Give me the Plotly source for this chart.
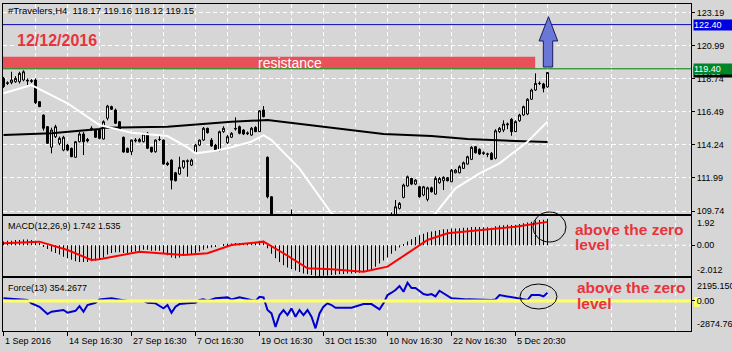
import plotly.graph_objects as go

# ---------------- data ----------------
bar_idx = list(range(137))

opens = [118.75,118.40,118.46,118.52,118.52,118.64,118.62,118.60,118.64,117.17,
         116.26,115.47,114.07,114.79,114.34,113.88,114.22,114.00,113.39,114.45,
         114.97,114.60,115.25,115.24,115.24,114.63,116.04,116.83,116.60,115.81,
         114.75,114.00,113.77,114.50,114.45,114.45,115.02,114.07,113.77,114.60,
         114.56,113.00,113.20,112.34,112.25,112.71,113.10,112.86,113.66,114.22,
         114.56,115.36,114.56,114.22,113.88,115.13,114.38,114.75,115.30,115.47,
         115.24,115.05,114.90,115.42,115.13,116.60,113.39,110.71,109.10,108.80,
         109.00,108.90,109.20,109.30,109.00,108.60,108.70,108.50,108.20,108.40,
         108.30,108.00,107.80,107.90,107.70,107.50,107.80,107.60,107.30,107.60,
         107.90,108.10,107.80,108.40,108.70,108.90,109.10,109.30,109.40,109.92,
         110.67,111.44,111.96,111.57,111.39,110.83,110.53,111.32,110.89,111.66,
         111.80,112.00,111.73,112.34,112.34,112.64,112.93,113.25,114.11,113.93,
         113.70,113.62,113.66,113.32,115.13,115.24,115.60,115.97,115.13,115.87,
         116.26,116.33,117.33,117.96,118.40,118.37,118.17]
highs = [118.85,118.55,119.20,118.90,119.20,119.30,118.75,118.70,118.75,117.20,
         116.30,115.50,115.40,115.60,114.80,114.85,114.30,114.05,114.50,115.10,
         115.10,114.70,115.50,115.30,115.30,115.90,116.95,116.90,116.70,115.85,
         114.80,114.05,114.60,114.70,114.70,115.05,115.10,114.10,114.60,114.85,
         114.60,113.10,113.25,112.40,113.43,113.20,113.25,113.30,114.30,114.60,
         115.45,115.40,114.70,114.30,115.20,115.50,114.90,115.10,116.10,115.55,
         115.30,115.15,115.45,115.50,116.60,116.87,113.45,110.75,109.40,109.20,
         109.30,109.30,109.85,109.45,109.20,108.90,109.00,108.80,108.50,108.70,
         108.60,108.30,108.10,108.20,108.00,107.90,108.10,107.90,107.70,108.00,
         108.30,108.40,108.60,108.90,109.10,109.30,109.40,109.65,110.49,110.35,
         111.60,112.15,112.00,111.90,111.45,111.45,111.40,111.40,112.10,112.05,
         112.10,112.05,112.60,112.60,112.85,113.10,113.50,114.15,114.15,114.00,
         113.80,113.70,113.75,115.30,115.45,115.90,115.75,116.05,115.90,116.35,
         116.90,117.40,118.05,119.09,118.55,118.45,119.16]
lows = [118.10,118.30,118.35,118.45,118.40,118.55,118.30,118.45,117.00,116.80,
        115.20,114.30,113.66,114.70,114.20,113.80,113.80,113.40,113.35,114.40,
        113.54,114.40,115.20,114.70,114.60,114.60,115.90,116.60,115.65,115.20,
        113.70,113.70,113.54,114.40,114.40,114.40,113.95,113.70,113.70,114.50,
        112.90,112.80,111.21,111.75,112.20,112.60,112.07,112.80,113.60,114.15,
        114.50,115.00,114.10,113.80,113.80,115.05,114.30,114.70,115.20,114.95,
        114.90,114.90,114.85,115.10,115.10,116.10,110.60,108.90,108.50,108.40,
        108.60,108.70,109.00,108.80,108.40,108.20,108.40,108.00,107.80,108.10,
        107.90,107.60,107.40,107.60,107.30,107.20,107.50,107.10,107.00,107.40,
        107.70,107.60,107.50,108.20,108.50,108.60,108.80,109.10,109.30,109.85,
        110.60,111.40,111.50,111.50,110.65,110.75,110.40,111.00,110.85,111.60,
        111.17,111.75,111.70,112.30,112.30,112.60,112.90,113.20,113.65,113.55,
        113.55,113.40,113.20,113.25,115.05,115.10,115.30,114.85,115.10,115.80,
        116.20,116.25,117.30,117.90,118.30,117.80,118.12]
closes = [118.20,118.45,118.64,118.75,119.09,119.20,118.58,118.55,117.10,116.83,
          115.36,114.34,115.24,115.47,114.68,114.75,113.88,113.43,114.45,114.97,
          114.45,114.50,115.36,114.75,114.68,115.81,116.87,116.65,115.70,115.29,
          113.75,113.73,114.56,114.56,114.60,114.97,114.00,113.77,114.56,114.60,
          112.93,112.90,111.84,111.80,112.71,113.16,113.15,113.20,114.22,114.56,
          115.36,115.06,114.16,113.88,115.13,115.36,114.79,115.02,115.35,115.02,
          114.97,115.00,115.36,115.13,116.55,116.15,110.71,109.10,108.80,109.00,
          108.90,109.20,109.40,109.00,108.60,108.70,108.50,108.20,108.40,108.30,
          108.00,107.80,107.90,107.70,107.50,107.80,107.60,107.30,107.60,107.90,
          108.10,107.80,108.40,108.70,108.90,109.10,109.20,109.50,110.03,110.26,
          111.51,112.07,111.57,111.84,110.71,111.39,111.32,111.05,111.96,111.96,
          112.03,111.80,112.52,112.52,112.75,113.02,113.43,114.07,113.70,113.61,
          113.66,113.60,113.25,115.19,115.36,115.65,115.65,115.13,115.81,116.26,
          116.83,117.33,117.96,118.41,118.41,118.08,119.15]

ma_slow_x = [0, 12, 24, 25, 41, 57, 66, 74, 95, 107, 116, 122, 136]
ma_slow_y = [114.90, 115.02, 115.31, 115.40, 115.47, 115.81, 115.92, 115.65,
             114.97, 114.83, 114.63, 114.56, 114.43]
ma_fast_x = [0, 7, 16, 24, 32, 41, 46, 48, 53, 57, 62, 65, 67, 71, 74, 78, 82,
             88, 95, 102, 108, 113, 119, 124, 131, 136]
ma_fast_y = [117.74, 118.30, 117.06, 115.58, 115.06, 114.83, 114.07, 113.66,
             113.84, 114.07, 114.45, 114.90, 114.56, 113.43, 112.62, 111.10,
             109.58, 108.60, 108.20, 108.60, 109.58, 111.28, 112.30, 112.98,
             114.45, 115.81]

macd_hist = [0.25,0.30,0.30,0.35,0.35,0.38,0.38,0.35,0.30,0.15,
             -0.05,-0.25,-0.40,-0.50,-0.60,-0.75,-0.85,-0.95,-1.05,-1.10,
             -1.10,-1.10,-1.05,-1.00,-0.95,-0.80,-0.60,-0.50,-0.45,-0.45,
             -0.50,-0.50,-0.45,-0.40,-0.35,-0.30,-0.30,-0.35,-0.35,-0.35,
             -0.50,-0.65,-0.80,-0.85,-0.80,-0.70,-0.65,-0.60,-0.50,-0.40,
             -0.30,-0.20,-0.15,-0.10,0.00,0.05,0.10,0.12,0.15,0.15,
             0.15,0.15,0.15,0.20,0.30,0.30,-0.20,-0.55,-0.85,-1.10,
             -1.30,-1.45,-1.55,-1.65,-1.75,-1.85,-1.90,-1.95,-2.00,-2.01,
             -2.00,-1.98,-1.95,-1.93,-1.90,-1.88,-1.85,-1.85,-1.83,-1.80,
             -1.75,-1.70,-1.55,-1.40,-1.20,-1.00,-0.80,-0.55,-0.35,-0.15,
             0.05,0.25,0.40,0.55,0.65,0.75,0.85,0.90,0.95,1.00,
             1.05,1.05,1.10,1.10,1.12,1.15,1.15,1.20,1.20,1.20,
             1.18,1.18,1.15,1.25,1.30,1.32,1.35,1.33,1.35,1.40,
             1.45,1.50,1.55,1.62,1.66,1.68,1.742]
signal_x = [0, 9, 16, 22, 24, 34, 45, 51, 57, 65, 70, 76, 82, 90, 96, 101, 106,
            111, 120, 128, 136]
signal_y = [0.13, 0.24, -0.31, -0.96, -0.92, -0.42, -0.64, -0.52, 0.02, 0.24,
            -0.52, -1.51, -1.57, -1.73, -1.40, -0.52, 0.35, 0.79, 1.00, 1.22, 1.535]

force_x = [0, 4, 6, 7, 9, 11, 12, 15, 16, 18, 19, 20, 21, 23, 24, 27, 30, 31, 35,
           36, 38, 40, 41, 42, 43, 44, 46, 48, 49, 50, 51, 53, 56, 57, 59, 61, 63,
           64, 65, 66, 67, 68, 69, 70, 71, 72, 73, 74, 75, 76, 77, 78, 79, 80, 81,
           82, 83, 87, 88, 90, 92, 94, 95, 96, 97, 98, 99, 100, 101, 102, 103,
           105, 106, 107, 108, 109, 112, 116, 122, 123, 124, 129, 131, 132, 134,
           135, 136]
force_y = [250, 150, 90, -230, -555, -1250, -1030, -870, -1130, -940, -490, -1030,
           -390, -170, 150, 250, 90, 0, 0, -170, -230, -710, -390, -1130, -555,
           -300, -230, -170, 90, 150, 0, 250, 340, 150, 340, 150, 0, 400, 340,
           -870, -1190, -2490, -1350, -870, -1350, -710, -1510, -870, -1350, -870,
           -1510, -2620, -1190, -555, -230, -390, -650, -650, -555, -300, -300,
           -800, -230, 565, 785, 1040, 1425, 880, 1740, 1235, 1235, 660, 565,
           660, 430, 975, 250, 150, 90, 150, 565, 250, 90, 565, 565, 430, 785, 354]

x_tick_idx = [0, 16, 32, 48, 64, 80, 96, 112, 128]
x_tick_text = ["1 Sep 2016", "14 Sep 16:30", "27 Sep 16:30", "7 Oct 16:30",
               "19 Oct 16:30", "31 Oct 15:30", "10 Nov 16:30", "22 Nov 16:30",
               "5 Dec 20:30"]
x_grid_idx = [8, 24, 40, 56, 72, 88, 104, 120, 136, 152, 168]
price_ticks = [123.19, 120.99, 118.74, 116.49, 114.24, 111.99, 109.74]
price_text = ["123.19", "120.99", "118.74", "116.49", "114.24", "111.99", "109.74"]
macd_range = [-2.012, 1.92]
force_range = [-2874.76, 2195.15]
resistance_level = 119.40
target_level = 122.40
last_close = 119.15

# ---------------- figure ----------------
BG = "rgb(214,214,214)"
RED = "#e8333c"
NARROW = "Liberation Sans Narrow, Liberation Sans, Arial, sans-serif"
SANS = "Liberation Sans, Arial, sans-serif"

fig = go.Figure()
fig.add_trace(go.Scatter(x=ma_slow_x, y=ma_slow_y, mode="lines",
                         line=dict(color="black", width=2), xaxis="x", yaxis="y"))
fig.add_trace(go.Scatter(x=ma_fast_x, y=ma_fast_y, mode="lines",
                         line=dict(color="white", width=2), xaxis="x", yaxis="y"))
fig.add_trace(go.Candlestick(x=bar_idx, open=opens, high=highs, low=lows, close=closes,
                             increasing=dict(line=dict(color="black", width=1), fillcolor="white"),
                             decreasing=dict(line=dict(color="black", width=1), fillcolor="black"),
                             whiskerwidth=0, xaxis="x", yaxis="y"))
fig.add_trace(go.Bar(x=bar_idx, y=macd_hist, width=0.25,
                     marker=dict(color="black", line=dict(width=0)), xaxis="x2", yaxis="y2"))
fig.add_trace(go.Scatter(x=signal_x, y=signal_y, mode="lines",
                         line=dict(color="#ff0000", width=2), xaxis="x2", yaxis="y2"))
fig.add_trace(go.Scatter(x=force_x, y=force_y, mode="lines",
                         line=dict(color="#0000cc", width=2), xaxis="x3", yaxis="y3"))

gridstyle = dict(showgrid=True, gridcolor="white", griddash="4px,3px", gridwidth=1)
xcommon = dict(range=[-0.125, 171.875], tickmode="array", tickvals=x_tick_idx,
               showticklabels=False, showline=True, mirror=True, linecolor="black",
               linewidth=1, zeroline=False,
               minor=dict(tickmode="array", tickvals=x_grid_idx, showgrid=True,
                          gridcolor="white", griddash="4px,3px", ticks=""),
               **gridstyle)
ycommon = dict(side="right", showline=True, mirror=True, linecolor="black", linewidth=1,
               zeroline=False, ticks="outside", ticklen=3, tickcolor="black",
               tickfont=dict(family=NARROW, size=9, color="black"))

fig.update_layout(
    width=732, height=352,
    margin=dict(l=3, r=41, t=4, b=21),
    paper_bgcolor=BG, plot_bgcolor=BG,
    showlegend=False, hovermode=False,
    xaxis=dict(domain=[0, 1], anchor="y", ticks="", rangeslider=dict(visible=False), **xcommon),
    xaxis2=dict(domain=[0, 1], anchor="y2", matches="x", ticks="", **xcommon),
    xaxis3=dict(domain=[0, 1], anchor="y3", matches="x", ticks="outside", ticklen=4,
                tickcolor="black", **xcommon),
    yaxis=dict(domain=[0.3578, 1], anchor="x", range=[109.54, 123.80], tickmode="array",
               tickvals=price_ticks, ticktext=price_text, **gridstyle, **ycommon),
    yaxis2=dict(domain=[0.1682, 0.3517], anchor="x2", range=macd_range, tickmode="array",
                tickvals=[0], ticktext=["0.00"], showgrid=False, **ycommon),
    yaxis3=dict(domain=[0, 0.1621], anchor="x3", range=force_range, tickmode="array",
                tickvals=[0], ticktext=["0.00"], showgrid=False, **ycommon),
)

shapes = [
    # resistance band
    dict(type="rect", xref="x domain", yref="y", x0=0, x1=0.7735, y0=119.44, y1=120.22,
         fillcolor="#e8505a", line=dict(width=0), layer="above"),
    dict(type="line", xref="x domain", yref="y", x0=0, x1=1, y0=target_level, y1=target_level,
         line=dict(color="#0a0ab0", width=1)),
    dict(type="line", xref="x domain", yref="y", x0=0, x1=1, y0=resistance_level,
         y1=resistance_level, line=dict(color="#008000", width=1)),
    # up arrow
    dict(type="path", xref="x", yref="y",
         path="M 134.95,119.52 L 134.95,121.29 L 133.9,121.29 L 136.25,122.94 "
              "L 138.55,121.29 L 137.3,121.29 L 137.3,119.52 Z",
         fillcolor="#6b77d6", line=dict(color="#1a1a60", width=1)),
    # MACD zero grid
    dict(type="line", xref="x2 domain", yref="y2", x0=0, x1=1, y0=0, y1=0,
         line=dict(color="white", width=1, dash="4px,3px"), layer="below"),
    # force zero level
    dict(type="line", xref="x3 domain", yref="y3", x0=0, x1=1, y0=0, y1=0,
         line=dict(color="#ffff66", width=3)),
    dict(type="rect", xref="paper", yref="paper", x0=1.0044, x1=1.0131, y0=0.0734, y1=0.104,
         fillcolor="#ffff66", line=dict(width=0), layer="below"),
    # ellipses
    dict(type="circle", xref="paper", yref="paper", x0=0.7703, x1=0.8183, y0=0.2722, y1=0.3639,
         line=dict(color="black", width=1)),
    dict(type="circle", xref="paper", yref="paper", x0=0.7515, x1=0.8052, y0=0.0673, y1=0.1437,
         line=dict(color="black", width=1)),
]
fig.update_layout(shapes=shapes)

ann = []
def txt(text, x, y, size=9, color="black", family=SANS, xanchor="left", xref="paper",
        yref="paper", **kw):
    ann.append(dict(text=text, x=x, y=y, xref=xref, yref=yref, xanchor=xanchor,
                    yanchor="middle", showarrow=False,
                    font=dict(family=family, size=size, color=color), **kw))

txt("#Travelers,H4\u00a0 118.17 119.16 118.12 119.15", 0, 0.9786, size=9.5, xshift=3)
txt("<b>12/12/2016</b>", 0.0174, 0.8899, size=16, color=RED)
txt("resistance", 71.6, 119.82, size=14, color="white", xanchor="center", xref="x", yref="y")
txt("<b>above the zero</b>", 0.8285, 0.3119, size=15.5, color=RED)
txt("<b>level</b>", 0.8285, 0.263, size=15.5, color=RED)
txt("<b>above the zero</b>", 0.8314, 0.1315, size=15.5, color=RED)
txt("<b>level</b>", 0.8314, 0.0856, size=15.5, color=RED)
txt("MACD(12,26,9) 1.742 1.535", 0, 0.3211, size=9, xshift=3)
txt("Force(13) 354.2677", 0, 0.1300, size=9, xshift=3)
# indicator window max/min labels
txt("1.92", 1, 0.3303, family=NARROW, xshift=4)
txt("-2.012", 1, 0.1865, family=NARROW, xshift=4)
txt("2195.150", 1, 0.1385, family=NARROW, xshift=4)
txt("-2874.76", 1, 0.0214, family=NARROW, xshift=4)
# x-axis labels
for i, t in zip(x_tick_idx, x_tick_text):
    txt(t, i, 0, xref="x3", yshift=-10, xshift=-1)
# price boxes
for val, bg in [(last_close, "black"), (resistance_level, "#00862a"), (target_level, "#0000e0")]:
    ann.append(dict(text=f"{val:.2f}", x=1, y=val, xref="paper", yref="y", xanchor="left",
                    yanchor="middle", showarrow=False, bgcolor=bg, width=38, height=10,
                    align="left", borderpad=0, xshift=2,
                    font=dict(family=NARROW, size=9, color="white")))
fig.update_layout(annotations=ann)

fig.write_html("out.html")
